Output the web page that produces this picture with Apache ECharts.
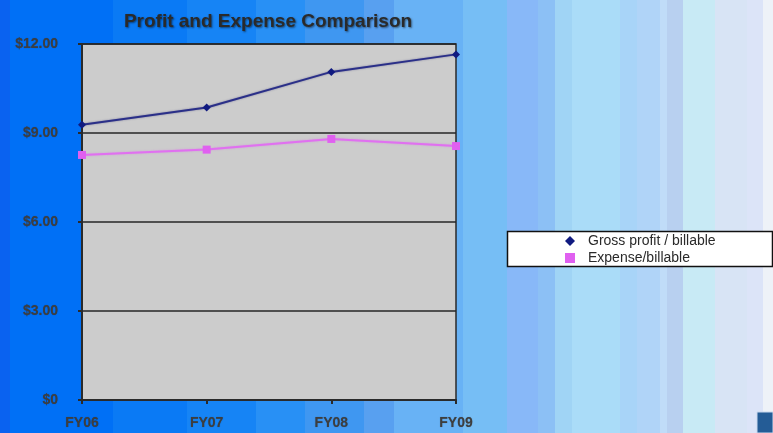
<!DOCTYPE html>
<html>
<head>
<meta charset="utf-8">
<script src="https://cdn.jsdelivr.net/npm/echarts@6/dist/echarts.min.js"></script>
<style>
  html, body { margin: 0; padding: 0; }
  #chart { width: 773px; height: 433px; }
</style>
</head>
<body>
<div id="chart"></div>
<script>
// Fiscal years on the category axis
const categories = ['FY06', 'FY07', 'FY08', 'FY09'];
// Dollars per billable unit
const grossProfit = [9.28, 9.86, 11.06, 11.65];
const expense = [8.26, 8.44, 8.80, 8.56];
const seriesNames = ['Gross profit / billable', 'Expense/billable'];
const yTicks = { min: 0, max: 12, interval: 3 };

// Vertical banded backdrop, from deep blue on the left to pale on the right
const bands = [
  [0, '#0a62f0'], [10, '#0070f6'], [113, '#0a7af5'], [187, '#1684f5'],
  [256, '#2890f5'], [305, '#3f97f1'], [364, '#58a0f0'], [394, '#68b2f5'],
  [463, '#76bef5'], [507, '#88b8f8'], [538, '#8cc0f5'], [555, '#a0d4f5'],
  [572, '#aadcf8'], [620, '#a8d4f8'], [637, '#b0d4f8'], [660, '#c0dcf8'],
  [667, '#b8d0f0'], [683, '#c8eaf5'], [715, '#d8e4f5'], [747, '#dce4f8'],
  [763, '#eef2f8'], [773, null]
];
const stops = [];
for (let i = 0; i < bands.length - 1; i++) {
  stops.push(bands[i][1] + ' ' + bands[i][0] + 'px', bands[i][1] + ' ' + bands[i + 1][0] + 'px');
}
document.getElementById('chart').style.background = 'linear-gradient(to right, ' + stops.join(', ') + ')';

const chart = echarts.init(document.getElementById('chart'), null, { renderer: 'canvas' });

const axisText = {
  color: '#3e3e3e',
  fontFamily: 'Liberation Sans, Arial, sans-serif',
  fontWeight: 'bold',
  fontSize: 14,
  textShadowColor: 'rgba(0,0,0,0.35)',
  textShadowBlur: 1
};

chart.setOption({
  animation: false,
  title: {
    text: 'Profit and Expense Comparison',
    left: 263,
    top: 7,
    textAlign: 'center',
    textStyle: {
      color: '#2a2a2a',
      fontFamily: 'Liberation Sans, Arial, sans-serif',
      fontWeight: 'bold',
      fontSize: 19,
      textShadowColor: 'rgba(0,0,0,0.5)',
      textShadowBlur: 2,
      textShadowOffsetX: 1,
      textShadowOffsetY: 1
    }
  },
  grid: {
    left: 82, right: 317, top: 44, bottom: 33,
    show: true,
    backgroundColor: '#cccccc',
    borderColor: '#2a2a2a',
    borderWidth: 1.5
  },
  graphic: [
    {
      type: 'rect',
      shape: { x: 507.5, y: 231.5, width: 265, height: 35 },
      style: { fill: '#ffffff', stroke: '#111111', lineWidth: 1.5 },
      z: 1
    },
    {
      type: 'rect',
      shape: { x: 757, y: 412, width: 16, height: 21 },
      style: { fill: '#245c96', stroke: '#c8d8ee', lineWidth: 1 },
      z: 1
    }
  ],
  legend: {
    data: seriesNames.map((n, i) => ({ name: n, icon: i === 0 ? 'diamond' : 'rect' })),
    orient: 'vertical',
    left: 565,
    top: 234,
    itemGap: 3,
    itemWidth: 10,
    itemHeight: 10,
    padding: 0,
    z: 5,
    textStyle: {
      color: '#2a2a2a',
      fontFamily: 'Liberation Sans, Arial, sans-serif',
      fontSize: 14,
      padding: [0, 0, 0, 8]
    }
  },
  xAxis: {
    type: 'category',
    data: categories,
    boundaryGap: false,
    axisLine: { lineStyle: { color: '#2a2a2a', width: 2 } },
    axisTick: { show: true, length: 4, inside: false, lineStyle: { color: '#2a2a2a', width: 2 } },
    axisLabel: Object.assign({ margin: 16 }, axisText),
    splitLine: { show: false }
  },
  yAxis: {
    type: 'value',
    min: yTicks.min,
    max: yTicks.max,
    interval: yTicks.interval,
    axisLine: { show: true, lineStyle: { color: '#2a2a2a', width: 2 } },
    axisTick: { show: true, length: 4, lineStyle: { color: '#2a2a2a', width: 2 } },
    axisLabel: Object.assign({
      margin: 24,
      formatter: v => v === 0 ? '$0' : '$' + v.toFixed(2)
    }, axisText),
    splitLine: { show: true, lineStyle: { color: '#262626', width: 1.5 } }
  },
  series: [
    {
      name: seriesNames[0],
      type: 'line',
      data: grossProfit,
      symbol: 'diamond',
      symbolSize: 8,
      color: '#1a1f80',
      lineStyle: { color: '#2a2f88', width: 2, shadowColor: 'rgba(20,20,100,0.4)', shadowBlur: 2 },
      itemStyle: { color: '#101a80' },
      z: 3
    },
    {
      name: seriesNames[1],
      type: 'line',
      data: expense,
      symbol: 'rect',
      symbolSize: 8,
      color: '#e060f0',
      lineStyle: { color: '#e070f0', width: 2, shadowColor: 'rgba(220,80,240,0.4)', shadowBlur: 2 },
      itemStyle: { color: '#e060f0' },
      z: 3
    }
  ]
});
</script>
</body>
</html>
